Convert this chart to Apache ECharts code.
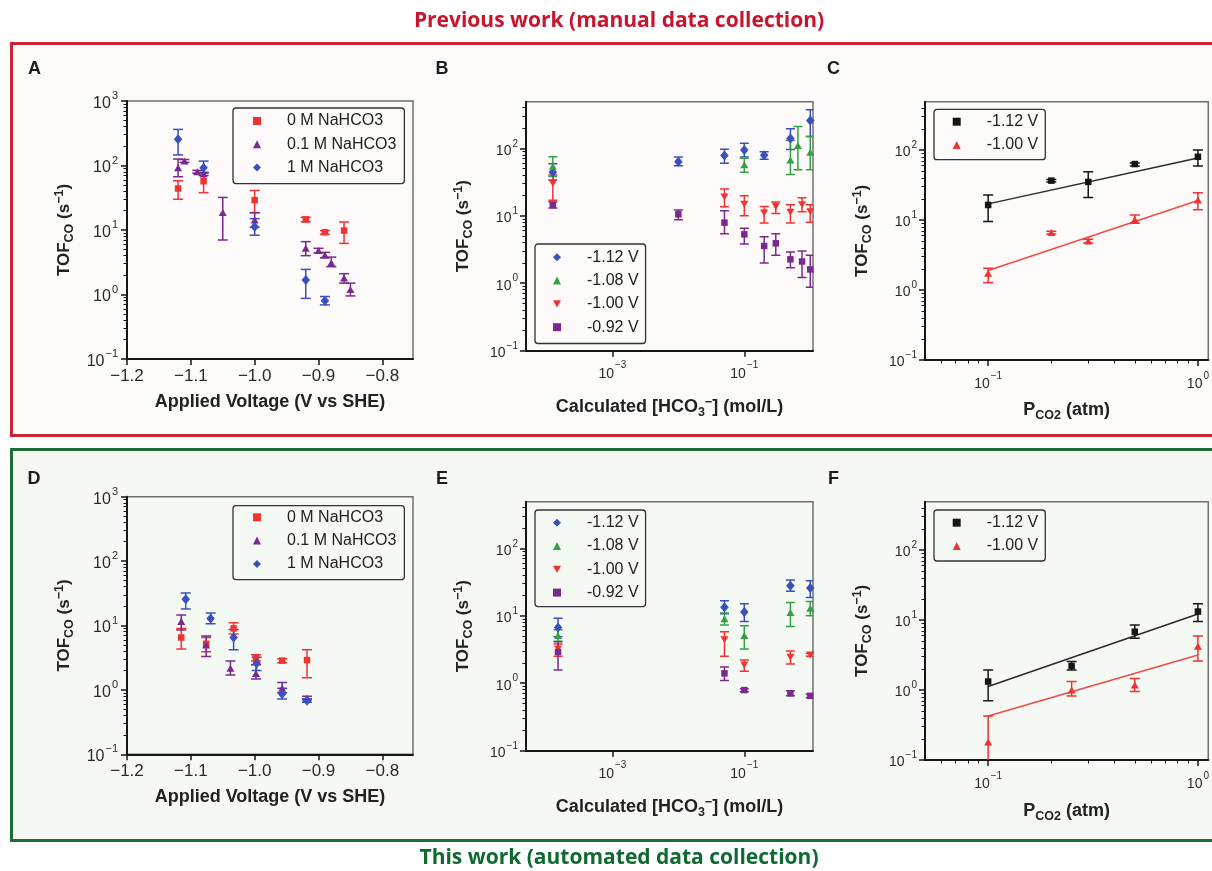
<!DOCTYPE html>
<html>
<head>
<meta charset="utf-8">
<script src="https://cdn.jsdelivr.net/npm/echarts@6/dist/echarts.min.js"></script>
<style>
  html, body { margin: 0; padding: 0; background: #ffffff; }
  #chart { width: 1212px; height: 871px; }
</style>
</head>
<body>
<div id="chart"></div>
<script>
// Rows are [x, TOF_CO, lower error bound, upper error bound]

// A – manual collection, TOF vs applied voltage
const manualVolt0M = [
  [-1.12, 44, 30, 58], [-1.08, 57, 38, 78], [-1.00, 29, 18.6, 41],
  [-0.92, 14.6, 13.4, 15.8], [-0.89, 9.2, 8.6, 9.8], [-0.86, 9.8, 6.2, 13.3]
];
const manualVolt01M = [
  [-1.12, 92, 67, 126], [-1.11, 118, 112, 124], [-1.09, 80, 76, 84], [-1.08, 74, 70, 78],
  [-1.05, 18.6, 7, 32], [-1.00, 14.3, 11, 18.5], [-0.92, 5.2, 4.0, 6.6], [-0.90, 4.8, 4.4, 5.2],
  [-0.89, 4.1, 3.7, 4.5], [-0.88, 3.1, 2.7, 3.8], [-0.86, 1.8, 1.5, 2.1], [-0.85, 1.2, 0.95, 1.5]
];
const manualVolt1M = [
  [-1.12, 255, 146, 363], [-1.08, 92, 76, 117], [-1.00, 11.2, 8.3, 15],
  [-0.92, 1.68, 0.87, 2.45], [-0.89, 0.80, 0.69, 0.93]
];

// B – manual collection, TOF vs bicarbonate concentration
const manualHco3At112 = [
  [1.25e-4, 44, 34, 59], [0.01, 63, 55, 74], [0.05, 78, 60, 97], [0.1, 94, 74, 119],
  [0.2, 79, 69, 89], [0.5, 140, 96, 195], [1.0, 258, 150, 372]
];
const manualHco3At108 = [
  [1.25e-4, 54, 38, 75], [0.1, 57, 44, 71], [0.5, 67, 41, 130], [0.65, 110, 48, 210], [1.0, 87, 48, 150]
];
const manualHco3At100 = [
  [1.25e-4, 30, 17, 40], [0.05, 19, 13.6, 25], [0.1, 14.8, 10, 19.7], [0.2, 11, 7.8, 13.7],
  [0.3, 13.7, 10.8, 16], [0.5, 11.3, 7.8, 14.5], [0.75, 14.5, 11.5, 18.5], [1.0, 11.5, 8, 14.5]
];
const manualHco3At092 = [
  [1.25e-4, 14.5, 13, 16], [0.01, 10.5, 8.7, 12.2], [0.05, 7.9, 5.4, 11.9], [0.1, 5.3, 3.8, 6.5],
  [0.2, 3.56, 2.0, 4.9], [0.3, 3.9, 2.6, 5.4], [0.5, 2.26, 1.7, 2.9], [0.75, 2.1, 1.22, 3.0],
  [1.0, 1.6, 0.87, 2.6]
];

// C – manual collection, TOF vs CO2 partial pressure, with power-law fits
const manualPco2At112 = [
  [0.1, 16.4, 9.5, 22.7], [0.2, 36.5, 35, 38], [0.3, 35, 21, 49], [0.5, 63, 59, 65], [1.0, 80, 59, 100]
];
const manualPco2At100 = [
  [0.1, 1.73, 1.27, 2.04], [0.2, 6.6, 6.3, 6.9], [0.3, 5.0, 4.7, 5.3], [0.5, 10.2, 9, 11.8], [1.0, 19.3, 14, 24.6]
];
const manualFitAt112 = [[0.1, 17], [1.0, 77]];
const manualFitAt100 = [[0.1, 1.9], [1.0, 19]];

// D – automated collection, TOF vs applied voltage
const autoVolt0M = [
  [-1.115, 6.5, 4.3, 9.0], [-1.076, 5.2, 3.9, 6.5], [-1.033, 9.0, 7.4, 11],
  [-0.998, 3.1, 2.8, 3.5], [-0.957, 2.85, 2.65, 3.05], [-0.918, 2.9, 1.55, 4.2]
];
const autoVolt01M = [
  [-1.115, 11.5, 8.5, 14.5], [-1.076, 5.0, 3.3, 6.9], [-1.038, 2.16, 1.7, 2.8],
  [-0.998, 1.8, 1.47, 2.45], [-0.957, 1.06, 0.9, 1.3], [-0.918, 0.74, 0.7, 0.8]
];
const autoVolt1M = [
  [-1.108, 25.5, 18, 32], [-1.069, 12.9, 10.6, 15.6], [-1.033, 6.5, 4.2, 8.7],
  [-0.997, 2.6, 2.0, 3.2], [-0.957, 0.86, 0.72, 1.06], [-0.918, 0.68, 0.64, 0.73]
];

// E – automated collection, TOF vs bicarbonate concentration
const autoHco3At112 = [
  [1.5e-4, 6.7, 4.9, 9.2], [0.05, 13.4, 10.7, 16.7], [0.1, 11.4, 8.2, 15], [0.5, 27.8, 23, 34], [1.0, 25.7, 18.6, 33]
];
const autoHco3At108 = [
  [1.5e-4, 5.1, 4.2, 6.2], [0.05, 9.0, 7.3, 11], [0.1, 5.1, 3.2, 7.1], [0.5, 11.2, 6.9, 15.7], [1.0, 12.9, 10, 16.2]
];
const autoHco3At100 = [
  [1.5e-4, 3.2, 2.5, 3.8], [0.05, 4.4, 2.5, 5.8], [0.1, 1.86, 1.5, 2.2], [0.5, 2.42, 1.93, 3.0], [1.0, 2.62, 2.5, 2.75]
];
const autoHco3At092 = [
  [1.5e-4, 2.9, 1.57, 4.1], [0.05, 1.4, 1.1, 1.74], [0.1, 0.79, 0.75, 0.83], [0.5, 0.71, 0.65, 0.77], [1.0, 0.65, 0.61, 0.69]
];

// F – automated collection, TOF vs CO2 partial pressure, with power-law fits
const autoPco2At112 = [
  [0.1, 1.32, 0.70, 1.93], [0.25, 2.2, 1.93, 2.55], [0.5, 6.8, 5.5, 8.5], [1.0, 13.2, 9.5, 17]
];
const autoPco2At100 = [
  [0.1, 0.18, 0.01, 0.425], [0.25, 1.0, 0.82, 1.32], [0.5, 1.18, 0.95, 1.46], [1.0, 4.2, 2.6, 5.9]
];
const autoFitAt112 = [[0.1, 1.12], [1.0, 12.2]];
const autoFitAt100 = [[0.1, 0.425], [1.0, 3.16]];

// Tick positions
const voltageTicks = [-1.2, -1.1, -1.0, -0.9, -0.8];
const tofTicksWide = [0.1, 1, 10, 100, 1000];
const tofTicks = [0.1, 1, 10, 100];
const hco3Ticks = [1e-3, 1e-1];
const pco2Ticks = [0.1, 1];

// Legend entries
const voltLegend = ['0 M NaHCO3', '0.1 M NaHCO3', '1 M NaHCO3'];
const potentialLegend = ['-1.12 V', '-1.08 V', '-1.00 V', '-0.92 V'];
const pressureLegend = ['-1.12 V', '-1.00 V'];

const INK = { red: '#ee3333', purple: '#7a2a8c', blue: '#3b50bb', green: '#35a043', black: '#161616', fitRed: '#f04848', fitBlack: '#2a2a2a' };
const SYM = {
  square: { symbol: 'rect', size: 6.5 },
  tri: { symbol: 'triangle', size: [8, 7] },
  triDown: { symbol: 'path://M0,0L10,0L5,9Z', size: [8, 7] },
  diamond: { symbol: 'diamond', size: [8.5, 10] }
};

const FONT = '"Liberation Sans", Arial, Helvetica, sans-serif';
const AXIS_INK = '#161616';

const grids = [], xAxes = [], yAxes = [], series = [], legends = [];

function minorLogValues(lo, hi) {
  const out = [];
  for (let d = Math.floor(Math.log10(lo)); d <= Math.ceil(Math.log10(hi)); d++) {
    for (let k = 2; k <= 9; k++) {
      const v = Number((k * Math.pow(10, d)).toPrecision(6));
      if (v > lo && v < hi) out.push(v);
    }
  }
  return out;
}

function powLabel(v) {
  const e = Math.round(Math.log10(v));
  return '{b|10}{s|' + (e < 0 ? '\u2212' + (-e) : String(e)) + '}';
}

// "10" with a raised exponent; token heights come from padding so the
// exponent sits at the top of the line box
function powRich(size, vertical) {
  const sup = Math.round(size * 0.7);
  const basePad = vertical ? 5 : 6;
  return {
    b: { fontSize: size, fontFamily: FONT, color: '#2a2a2a', padding: [basePad, 0, 0, 0], verticalAlign: 'bottom' },
    s: { fontSize: sup, fontFamily: FONT, color: '#2a2a2a', padding: [0, 0, 0, 1], verticalAlign: 'top' }
  };
}

const nameRich = {
  sub: { fontSize: 12.5, fontWeight: 'bold', fontFamily: FONT, color: '#222', padding: [10, 0, 0, 0], verticalAlign: 'bottom' },
  sup: { fontSize: 12.5, fontWeight: 'bold', fontFamily: FONT, color: '#222', padding: [0, 0, 10, 0], verticalAlign: 'top' }
};

function makeAxis(gi, spec, dim) {
  const isX = dim === 'x';
  const major = {
    gridIndex: gi, type: spec.type, min: spec.min, max: spec.max,
    position: isX ? 'bottom' : 'left',
    axisLine: { show: true, onZero: false, lineStyle: { color: AXIS_INK, width: 2 } },
    axisTick: { show: true, customValues: spec.ticks, length: 6, lineStyle: { color: AXIS_INK, width: 1.5 } },
    axisLabel: {
      show: true, customValues: spec.ticks, margin: spec.margin,
      formatter: spec.formatter, rich: spec.rich,
      fontFamily: FONT, fontSize: spec.fontSize || 16, color: '#2a2a2a'
    },
    splitLine: { show: false },
    name: spec.name, nameLocation: 'middle', nameGap: spec.nameGap,
    nameTextStyle: { fontFamily: FONT, fontWeight: 'bold', fontSize: spec.nameSize || 16, color: '#222', rich: nameRich }
  };
  if (!isX) major.nameRotate = 90;
  const list = isX ? xAxes : yAxes;
  const idx = list.length;
  list.push(major);
  if (spec.minor) {
    list.push({
      gridIndex: gi, type: spec.type, min: spec.min, max: spec.max,
      position: isX ? 'bottom' : 'left',
      axisLine: { show: false },
      axisTick: { show: true, customValues: spec.minor, length: 3.5, lineStyle: { color: AXIS_INK, width: 1 } },
      axisLabel: { show: false },
      splitLine: { show: false }
    });
  }
  return idx;
}

function barRenderer(color, cap) {
  return function (params, api) {
    const x = api.value(0), lo = api.value(1), hi = api.value(2);
    const top = api.coord([x, hi]);
    const bot = api.coord([x, lo]);
    const style = { stroke: color, lineWidth: 1.5, fill: null };
    return {
      type: 'group',
      children: [
        { type: 'line', shape: { x1: top[0], y1: top[1], x2: bot[0], y2: bot[1] }, style: style },
        { type: 'line', shape: { x1: top[0] - cap, y1: top[1], x2: top[0] + cap, y2: top[1] }, style: style },
        { type: 'line', shape: { x1: bot[0] - cap, y1: bot[1], x2: bot[0] + cap, y2: bot[1] }, style: style }
      ]
    };
  };
}

function addPanel(p) {
  const gi = grids.length;
  grids.push({
    left: p.rect[0], top: p.rect[1], width: p.rect[2], height: p.rect[3],
    show: true, borderColor: '#707070', borderWidth: 1.5, backgroundColor: 'transparent', containLabel: false
  });
  const xi = makeAxis(gi, p.x, 'x');
  const yi = makeAxis(gi, p.y, 'y');
  const names = [];
  p.groups.forEach(function (g) {
    const fullName = p.key + '::' + g.label;
    names.push(fullName);
    series.push({
      type: 'custom', name: fullName + ' bars', xAxisIndex: xi, yAxisIndex: yi,
      clip: true, silent: true, z: 3,
      data: g.rows.map(function (r) { return [r[0], r[2], r[3]]; }),
      encode: { x: 0, y: [1, 2] },
      renderItem: barRenderer(g.color, p.cap || 5)
    });
    series.push({
      type: 'scatter', name: fullName, xAxisIndex: xi, yAxisIndex: yi, silent: true, z: 4,
      symbol: g.sym.symbol, symbolSize: g.sym.size,
      itemStyle: { color: g.color, opacity: 1 },
      data: g.rows.map(function (r) { return [r[0], r[1]]; })
    });
  });
  (p.fits || []).forEach(function (f, i) {
    series.push({
      type: 'line', name: p.key + ' fit ' + i, xAxisIndex: xi, yAxisIndex: yi, silent: true, z: 2,
      symbol: 'none', data: f.rows, lineStyle: { color: f.color, width: 1.5 }
    });
  });
  legends.push({
    show: true, selectedMode: false, orient: 'vertical',
    left: p.legend.left, top: p.legend.top, padding: p.legend.padding,
    itemGap: 5.3, itemWidth: 8, itemHeight: 8,
    data: names,
    formatter: function (n) { return n.split('::')[1]; },
    textStyle: { fontFamily: FONT, fontSize: 16, color: '#222', lineHeight: 18, padding: [0, 0, 0, 21] },
    borderColor: '#333', borderWidth: 1.3, borderRadius: 3, backgroundColor: 'transparent'
  });
}

const voltFmt = function (v) { return (v < 0 ? '\u2212' : '') + Math.abs(v).toFixed(1); };

const tofYWide = {
  type: 'log', min: 0.0999, max: 1001, ticks: tofTicksWide, minor: minorLogValues(0.1, 1000),
  formatter: powLabel, rich: powRich(16, true), margin: 9,
  name: 'TOF{sub|CO} (s{sup|\u22121})', nameGap: 51, nameSize: 17
};
const tofY = {
  type: 'log', min: 0.0999, max: 490, ticks: tofTicks, minor: minorLogValues(0.1, 490),
  formatter: powLabel, rich: powRich(14, true), margin: 8,
  name: 'TOF{sub|CO} (s{sup|\u22121})', nameGap: 51, nameSize: 17
};
function voltX(gap) {
  return {
    type: 'value', min: -1.2, max: -0.752, ticks: voltageTicks,
    formatter: voltFmt, margin: 9, fontSize: 17,
    name: 'Applied Voltage (V vs SHE)', nameGap: gap, nameSize: 18
  };
}
function hco3X(gap) {
  return {
    type: 'log', min: 4.9e-5, max: 1.1, ticks: hco3Ticks,
    formatter: powLabel, rich: powRich(14, false), margin: 10,
    name: 'Calculated [HCO{sub|3}{sup|\u2212}] (mol/L)', nameGap: gap, nameSize: 18
  };
}
function pco2X(gap) {
  return {
    type: 'log', min: 0.05, max: 1.12, ticks: pco2Ticks, minor: minorLogValues(0.05, 1.12),
    formatter: powLabel, rich: powRich(14, false), margin: 11,
    name: 'P{sub|CO2} (atm)', nameGap: gap, nameSize: 18
  };
}

function voltGroups(r0, r01, r1) {
  return [
    { label: voltLegend[0], rows: r0, color: INK.red, sym: SYM.square },
    { label: voltLegend[1], rows: r01, color: INK.purple, sym: SYM.tri },
    { label: voltLegend[2], rows: r1, color: INK.blue, sym: SYM.diamond }
  ];
}
function potentialGroups(a, b, c, d) {
  return [
    { label: potentialLegend[0], rows: a, color: INK.blue, sym: SYM.diamond },
    { label: potentialLegend[1], rows: b, color: INK.green, sym: SYM.tri },
    { label: potentialLegend[2], rows: c, color: INK.red, sym: SYM.triDown },
    { label: potentialLegend[3], rows: d, color: INK.purple, sym: SYM.square }
  ];
}
function pressureGroups(a, b) {
  return [
    { label: pressureLegend[0], rows: a, color: INK.black, sym: SYM.square },
    { label: pressureLegend[1], rows: b, color: INK.red, sym: SYM.tri }
  ];
}

addPanel({ key: 'A', rect: [127, 101, 286, 258], x: voltX(34), y: tofYWide,
  groups: voltGroups(manualVolt0M, manualVolt01M, manualVolt1M),
  legend: { left: 233, top: 108, padding: [4, 8, 7, 20] } });
addPanel({ key: 'B', rect: [526, 101.7, 287, 249], x: hco3X(45), y: tofY, cap: 4.5,
  groups: potentialGroups(manualHco3At112, manualHco3At108, manualHco3At100, manualHco3At092),
  legend: { left: 535, top: 244, padding: [4.3, 7, 7.3, 18] } });
addPanel({ key: 'C', rect: [925, 101.7, 285, 258.3], x: pco2X(39), y: tofY, cap: 5,
  groups: pressureGroups(manualPco2At112, manualPco2At100),
  fits: [{ rows: manualFitAt112, color: INK.fitBlack }, { rows: manualFitAt100, color: INK.fitRed }],
  legend: { left: 934, top: 109.3, padding: [3.4, 7, 5.7, 18.7] } });
addPanel({ key: 'D', rect: [127, 496.7, 286, 257.6], x: voltX(34), y: tofYWide,
  groups: voltGroups(autoVolt0M, autoVolt01M, autoVolt1M),
  legend: { left: 233, top: 505.7, padding: [2.6, 8, 6.7, 20] } });
addPanel({ key: 'E', rect: [526, 501.7, 287, 249], x: hco3X(45), y: tofY, cap: 4.5,
  groups: potentialGroups(autoHco3At112, autoHco3At108, autoHco3At100, autoHco3At092),
  legend: { left: 535, top: 510, padding: [3.7, 7, 5, 18] } });
addPanel({ key: 'F', rect: [925, 501.7, 285, 258.3], x: pco2X(40), y: tofY, cap: 5,
  groups: pressureGroups(autoPco2At112, autoPco2At100),
  fits: [{ rows: autoFitAt112, color: INK.fitBlack }, { rows: autoFitAt100, color: INK.fitRed }],
  legend: { left: 934, top: 510, padding: [3.7, 7, 6, 18.7] } });

const letterStyle = { fontFamily: FONT, fontWeight: 'bold', fontSize: 18, fill: '#1c1c1c', align: 'center', verticalAlign: 'middle' };
const panelLetters = [['A', 34.5, 69], ['B', 442, 69], ['C', 833.5, 69], ['D', 34, 479.5], ['E', 442, 479.5], ['F', 833.5, 479.5]];

const titleFont = '"Open Sans", "Noto Sans", sans-serif';
const graphics = [
  { type: 'rect', z: -10, shape: { x: 11.5, y: 43.5, width: 1215, height: 392 },
    style: { fill: '#fdfaf9', stroke: '#cc2430', lineWidth: 3 } },
  { type: 'rect', z: -10, shape: { x: 11.5, y: 449.5, width: 1215, height: 391 },
    style: { fill: '#f5f9f4', stroke: '#1e6d36', lineWidth: 3 } },
  { type: 'text', z: 50, x: 619, y: 21,
    style: { text: 'Previous work (manual data collection)', fontFamily: titleFont, fontWeight: 'bold', fontSize: 21, fill: '#c8142c', align: 'center', verticalAlign: 'middle' } },
  { type: 'text', z: 50, x: 619, y: 858,
    style: { text: 'This work (automated data collection)', fontFamily: titleFont, fontWeight: 'bold', fontSize: 21, fill: '#0e6a30', align: 'center', verticalAlign: 'middle' } }
];
panelLetters.forEach(function (l) {
  graphics.push({ type: 'text', z: 50, x: l[1], y: l[2], style: Object.assign({ text: l[0] }, letterStyle) });
});

const chart = echarts.init(document.getElementById('chart'), null, { renderer: 'canvas' });
chart.setOption({
  animation: false,
  backgroundColor: '#ffffff',
  graphic: graphics,
  grid: grids,
  xAxis: xAxes,
  yAxis: yAxes,
  legend: legends,
  series: series
});
</script>
</body>
</html>
